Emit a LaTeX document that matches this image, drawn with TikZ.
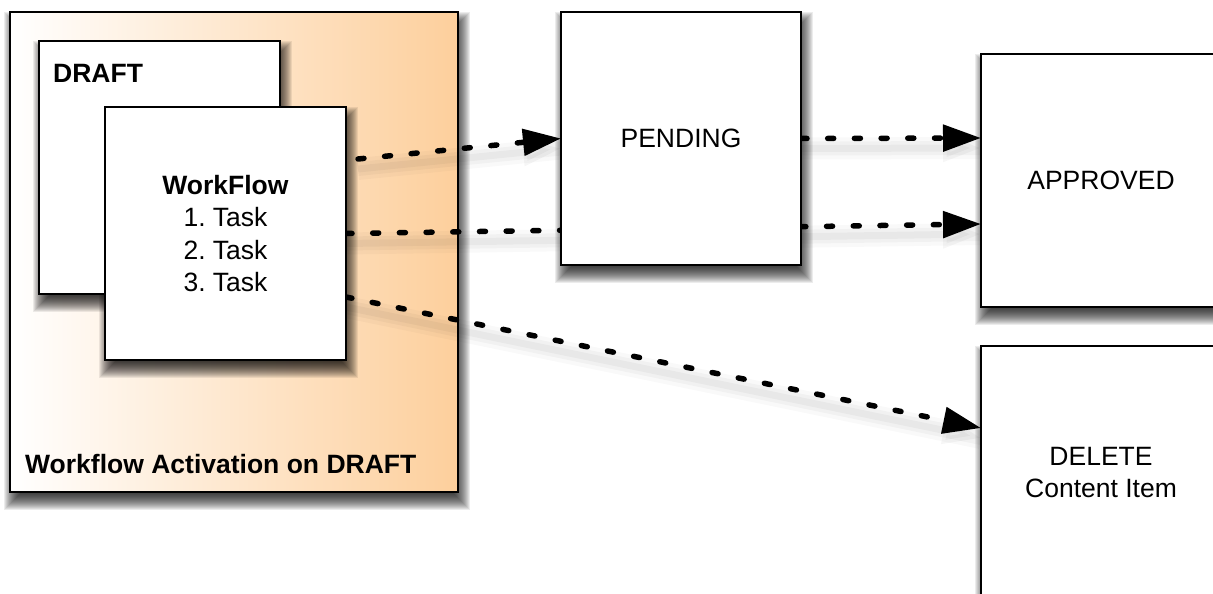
\documentclass[tikz,border=0pt]{standalone}
\usepackage{fontspec}
\setmainfont{Liberation Sans}
\usetikzlibrary{arrows.meta}
\definecolor{peach}{RGB}{253,207,156}
\pgfdeclarelayer{actsh}
\pgfdeclarelayer{bg}
\pgfdeclarelayer{sh}
\pgfdeclarelayer{arr}
\pgfsetlayers{actsh,bg,sh,arr,main}
\newcommand\myshadow[1]{%
  \foreach \e in {0,...,18}{%
    \fill[black, fill opacity=0.075]
      ([xshift={(3-(\e-9))*1pt}, yshift={(-9-(\e-9))*1pt}]#1.south west) rectangle
      ([xshift={(3+(\e-9))*1pt}, yshift={(-9+(\e-9))*1pt}]#1.north east);}}
\tikzset{
  box/.style={draw=black, line width=2.8pt, fill=white, rectangle, outer sep=0pt,
    inner sep=0pt, minimum width=241pt, minimum height=253pt,
    font=\fontsize{26.5}{32.3}\selectfont, align=center},
  lbl/.style={anchor=base west, inner sep=0pt, font=\fontsize{26.5}{32}\selectfont\bfseries},
  arrshadow/.style={
    preaction={draw=black, draw opacity=0.025, line width=22pt, solid, -, transform canvas={yshift=-10pt}},
    preaction={draw=black, draw opacity=0.03, line width=14pt, solid, -, transform canvas={yshift=-10pt}},
    preaction={draw=black, opacity=0.035, line width=7pt, solid, transform canvas={yshift=-10pt}}},
  flow/.style={arrshadow, line width=5.5pt, line cap=round, dash pattern=on 6pt off 20.7pt,
    -{Triangle[length=38pt,width=26pt]}}
}
\begin{document}
\frenchspacing
\begin{tikzpicture}[x=1pt,y=-1pt]
\useasboundingbox (0,0) rectangle (1213,594);
% activation container
\begin{pgfonlayer}{bg}
\node[box, minimum width=448pt, minimum height=480pt, left color=white, right color=peach] (act) at (234,252) {};
\end{pgfonlayer}
\node[lbl] (actlbl) at (25,473) {Workflow Activation on DRAFT};
% draft and workflow
\node[box] (draft) at (159.5,167.5) {};
\node[lbl] (draftlbl) at (53,82) {DRAFT};
\node[box] (wf) at (225.5,233.5) {\textbf{WorkFlow}\\1. Task\\2. Task\\3. Task};
% states
\node[box, minimum width=240pt] (pend) at (681,138.5) {PENDING};
\node[box, minimum width=240pt] (appr) at (1101,180.5) {APPROVED};
\node[box, minimum width=240pt] (del) at (1101,472.5) {DELETE\\Content Item};
% shadows
\begin{pgfonlayer}{actsh}
\myshadow{act}
\end{pgfonlayer}
\begin{pgfonlayer}{sh}
\myshadow{draft}
\myshadow{wf}
\myshadow{pend}
\myshadow{appr}
\myshadow{del}
\end{pgfonlayer}
% connectors
\begin{pgfonlayer}{arr}
\draw[flow] ([xshift=12pt,yshift=74.5pt]wf.east) -- (pend.west);
\draw[flow] (wf.east) -- ([yshift=-43.5pt]appr.west);
\draw[flow] ([yshift=-63.5pt]wf.east) -- ([yshift=44.5pt]del.west);
\draw[flow] (pend.east) -- ([yshift=42.5pt]appr.west);
\end{pgfonlayer}
\end{tikzpicture}
\end{document}
